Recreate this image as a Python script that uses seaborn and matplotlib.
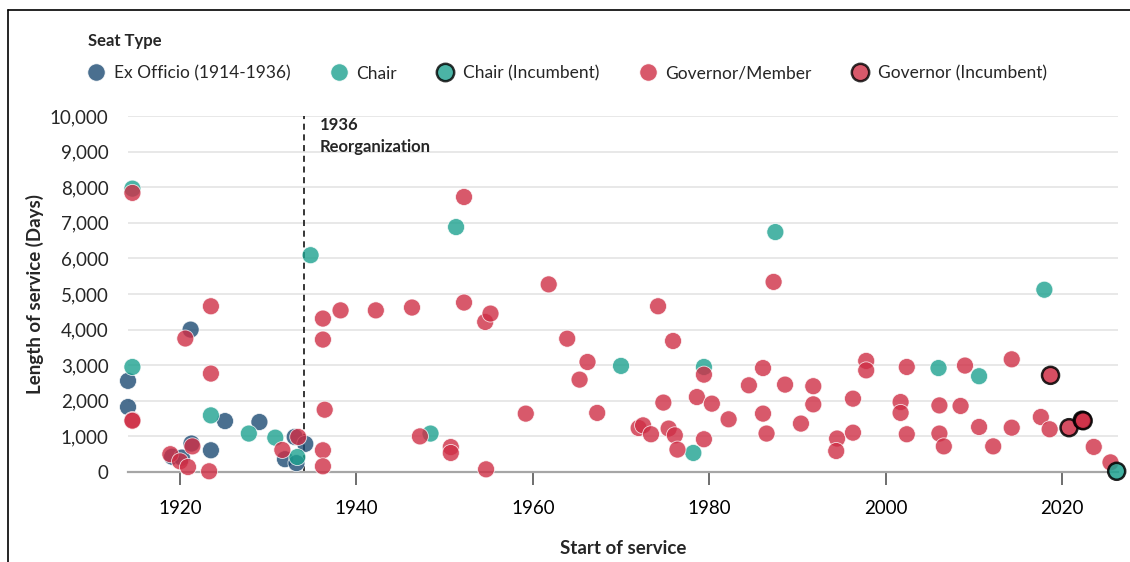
import matplotlib
matplotlib.use("Agg")
import matplotlib.pyplot as plt
from matplotlib.lines import Line2D
import seaborn as sns
import pandas as pd

# ---- data (start year, days served) ----
exofficio_year = [1914.1, 1914.1, 1919.1, 1920.2, 1921.3, 1921.2, 1923.5, 1925.1,
                  1929.0, 1931.9, 1933.2, 1933.0, 1934.2]
exofficio_days = [2560, 1825, 430, 405, 800, 4000, 610, 1430,
                  1405, 360, 250, 985, 790]

chair_year = [1914.6, 1914.6, 1923.5, 1927.8, 1930.8, 1933.3, 1934.8, 1948.4,
              1951.3, 1970.0, 1978.2, 1979.4, 1987.5, 2006.0, 2010.6, 2018.0]
chair_days = [7960, 2950, 1590, 1080, 965, 420, 6090, 1080,
              6880, 2980, 535, 2950, 6740, 2920, 2690, 5120]

chair_inc_year = [2026.2]
chair_inc_days = [20]

gov_year = [1914.6, 1914.6, 1914.6, 1918.9, 1920.0, 1920.9, 1921.4, 1920.6,
            1923.5, 1923.5, 1923.3, 1931.6, 1933.4, 1936.2, 1936.2, 1936.4,
            1936.2, 1936.2, 1938.2, 1942.2, 1946.3, 1947.2, 1950.7, 1950.7,
            1952.2, 1952.2, 1954.6, 1955.2, 1954.7, 1959.2, 1961.8, 1963.9,
            1965.3, 1966.2, 1967.3, 1972.0, 1972.5, 1973.4, 1974.2, 1974.8,
            1975.4, 1975.9, 1976.1, 1976.4, 1978.6, 1979.4, 1979.4, 1980.3,
            1982.2, 1984.5, 1986.1, 1986.1, 1986.5, 1987.3, 1988.6, 1990.4,
            1991.8, 1991.8, 1994.5, 1994.4, 1996.3, 1996.3, 1997.8, 1997.8,
            2001.7, 2001.7, 2002.4, 2002.4, 2006.1, 2006.1, 2006.6, 2008.5,
            2009.0, 2010.6, 2012.2, 2014.3, 2014.3, 2017.6, 2018.6, 2023.6,
            2025.5]
gov_days = [7840, 1460, 1440, 500, 300, 140, 720, 3750,
            4655, 2765, 20, 620, 985, 4310, 3720, 1750,
            610, 160, 4540, 4540, 4620, 1000, 700, 535,
            7725, 4760, 4215, 4450, 75, 1640, 5270, 3745,
            2595, 3090, 1660, 1235, 1310, 1060, 4655, 1950,
            1220, 3680, 1030, 630, 2105, 2735, 920, 1920,
            1480, 2435, 2920, 1640, 1080, 5340, 2455, 1360,
            2410, 1900, 940, 590, 1105, 2060, 3120, 2855,
            1965, 1660, 2950, 1060, 1870, 1080, 720, 1855,
            2990, 1265, 720, 3165, 1245, 1545, 1200, 705,
            270]

gov_inc_year = [2018.7, 2020.8, 2022.3, 2022.4]
gov_inc_days = [2715, 1245, 1455, 1440]

seat_types = ["Ex Officio (1914-1936)", "Chair", "Chair (Incumbent)",
              "Governor/Member", "Governor (Incumbent)"]
colors = ["#1d4b73", "#1ea290", "#1ea290", "#cf2f46", "#cf2f46"]
incumbent = [False, False, True, False, True]

frames = []
for name, xs, ys in zip(seat_types,
                        [exofficio_year, chair_year, chair_inc_year, gov_year, gov_inc_year],
                        [exofficio_days, chair_days, chair_inc_days, gov_days, gov_inc_days]):
    frames.append(pd.DataFrame({"start": xs, "days": ys, "seat": name}))
df = pd.concat(frames, ignore_index=True)
palette = dict(zip(seat_types, colors))

sns.set_style("white", {"xtick.bottom": True})
plt.rcParams["font.family"] = ["Lato", "DejaVu Sans"]
plt.rcParams["xtick.major.size"] = 9
plt.rcParams["xtick.major.width"] = 1.2
plt.rcParams["xtick.major.pad"] = 11
plt.rcParams["xtick.color"] = "#555555"
plt.rcParams["xtick.labelcolor"] = "black"
plt.rcParams["ytick.major.size"] = 0
plt.rcParams["ytick.major.pad"] = 14

fig = plt.figure(figsize=(11.3, 5.62), dpi=100)
ax = fig.add_axes([128 / 1130, 90 / 562, 990 / 1130, 356 / 562])

# regular points, drawn ex officio -> chair -> governor
reg = df[df.seat.isin([s for s, inc in zip(seat_types, incumbent) if not inc])]
sns.scatterplot(data=reg, x="start", y="days", hue="seat", palette=palette,
                hue_order=["Ex Officio (1914-1936)", "Chair", "Governor/Member"],
                s=150, alpha=0.8, edgecolor="white", linewidth=0.6,
                legend=False, clip_on=False, zorder=3, ax=ax)
# incumbents get a black ring
inc = df[df.seat.isin(["Chair (Incumbent)", "Governor (Incumbent)"])]
sns.scatterplot(data=inc, x="start", y="days", hue="seat", palette=palette,
                s=150, alpha=0.85, edgecolor="black", linewidth=1.8,
                legend=False, clip_on=False, zorder=4, ax=ax)

ax.set_xlim(1914.1, 2026.35)
ax.set_ylim(0, 10000)
ax.set_yticks(range(0, 10001, 1000))
ax.set_yticklabels([f"{v:,}" for v in range(0, 10001, 1000)])
ax.set_xticks(range(1920, 2021, 20))
ax.yaxis.grid(True, color="#e6e6e6", lw=1.3)
ax.xaxis.grid(False)
for side in ["top", "right", "left"]:
    ax.spines[side].set_visible(False)
ax.spines["bottom"].set_color("#a6a6a6")
ax.spines["bottom"].set_linewidth(1.6)
ax.tick_params(axis="x", labelsize=13.5)
ax.tick_params(axis="y", labelsize=13.5)

ax.set_xlabel("Start of service", fontsize=13.5, fontweight="bold")
ax.set_ylabel("Length of service (Days)", fontsize=13.5, fontweight="bold")
ax.xaxis.set_label_coords(0.5, -0.19)
ax.yaxis.set_label_coords(-0.085, 0.5)

# 1936 reorganization marker
ax.axvline(1934.06, color="black", ls="--", lw=1.1, dashes=(4, 3), zorder=2)
ax.text(1935.8, 9960, "1936\nReorganization", fontsize=12, fontweight="bold",
        va="top", ha="left", linespacing=1.45)

# legend
handles = []
for name, c, i in zip(seat_types, colors, incumbent):
    handles.append(Line2D([], [], marker="o", ls="", markersize=12.5,
                          markerfacecolor=c, alpha=0.8,
                          markeredgecolor="black" if i else "white",
                          markeredgewidth=1.8 if i else 0.6))
fig.legend(handles=handles, labels=seat_types, loc="upper left",
           bbox_to_anchor=(81 / 1130, 1 - 26 / 562), ncol=5, frameon=False,
           title="Seat Type", title_fontproperties={"weight": "bold", "size": 12},
           alignment="left", fontsize=12.5, handlelength=0.95, handletextpad=0.55,
           columnspacing=2.3, labelspacing=0.95, borderaxespad=0)

# outer frame lines (left and top)
fig.add_artist(Line2D([8 / 1130, 8 / 1130], [0, 1 - 10 / 562], color="black", lw=1.2))
fig.add_artist(Line2D([8 / 1130, 1], [1 - 10 / 562, 1 - 10 / 562], color="black", lw=1.2))

fig.savefig("out.png", dpi=100)
